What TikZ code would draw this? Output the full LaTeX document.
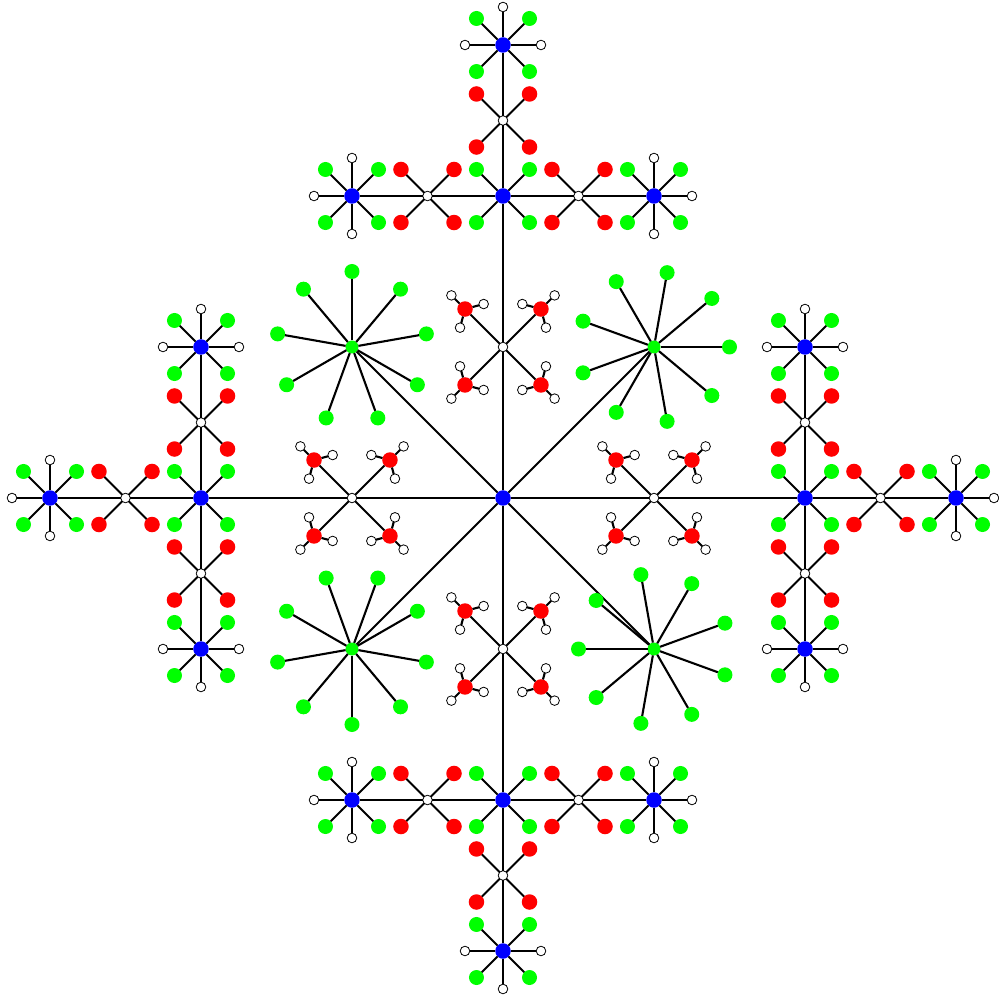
\documentclass[tikz,border=0pt]{standalone}
\usepackage{xcolor}
\usepackage{tikz}
\usetikzlibrary{positioning}
\usetikzlibrary{calc}

\definecolor{atomblue}{RGB}{0,0,255}
\definecolor{atomgreen}{RGB}{0,255,0}
\definecolor{atomred}{RGB}{255,0,0}

\begin{document}
\begin{tikzpicture}[x=1pt,y=1pt,
  bond/.style={line width=2.1pt},
  atom/.style={circle,inner sep=0pt,outer sep=0pt},
  blue node/.style={atom,fill=atomblue,minimum size=15.5pt},
  green node/.style={atom,fill=atomgreen,minimum size=15pt},
  hub node/.style={atom,fill=atomgreen,minimum size=13pt},
  red node/.style={atom,fill=atomred,minimum size=15.5pt},
  white node/.style={atom,draw,fill=white,line width=0.8pt,minimum size=9.6pt}]
\useasboundingbox (-503,-500) rectangle (495,498);
\node[blue node] at (0,0) (C) {};
% the four arms
\foreach \r in {0,90,180,270}{
  \begin{scope}[rotate=\r]
  \node[white node] at (151,0) (W\r) {};
  \draw[bond] (C) -- (W\r);
  \foreach \k in {45,135,225,315}{
    \node[red node] at ($(W\r)+(\k:53.7)$) (W\r-\k) {};
    \draw[bond] (W\r) -- (W\r-\k);
    \foreach \h in {0,120,240}{
      \node[white node] at ($(W\r-\k)+({\k+\h}:19.3)$) (W\r-\k-\h) {};
      \draw[bond] (W\r-\k) -- (W\r-\k-\h);
    }
  }
  \node[blue node] at (302,0) (A\r) {};
  \draw[bond] (W\r) -- (A\r);
  \foreach \k in {45,135,225,315}{
    \node[green node] at ($(A\r)+(\k:37.5)$) (A\r-\k) {};
    \draw[bond] (A\r) -- (A\r-\k);
  }
  \foreach \d in {0,90,270}{
    \node[white node] at ($(A\r)+(\d:75.5)$) (M\r-\d) {};
    \node[blue node] at ($(A\r)+(\d:151)$) (T\r-\d) {};
    \draw[bond] (A\r) -- (M\r-\d) -- (T\r-\d);
    \foreach \k in {45,135,225,315}{
      \node[red node] at ($(M\r-\d)+(\k:37.5)$) (M\r-\d-\k) {};
      \node[green node] at ($(T\r-\d)+(\k:37.5)$) (T\r-\d-\k) {};
      \draw[bond] (M\r-\d) -- (M\r-\d-\k) (T\r-\d) -- (T\r-\d-\k);
    }
    \foreach \h in {-90,0,90}{
      \node[white node] at ($(T\r-\d)+({\d+\h}:38)$) (T\r-\d-h\h) {};
      \draw[bond] (T\r-\d) -- (T\r-\d-h\h);
    }
  }
  \end{scope}
}
% the four stars
\foreach \s/\x/\y/\o in {1/-151/151/10, 2/151/151/0, 3/151/-151/20, 4/-151/-151/30}{
  \node[hub node] at (\x,\y) (S\s) {};
  \draw[bond] (C) -- (S\s);
  \foreach \k in {0,...,8}{
    \node[green node] at ($(S\s)+({\o+40*\k}:75.5)$) (S\s-\k) {};
    \draw[bond] (S\s) -- (S\s-\k);
  }
}
\end{tikzpicture}
\end{document}
